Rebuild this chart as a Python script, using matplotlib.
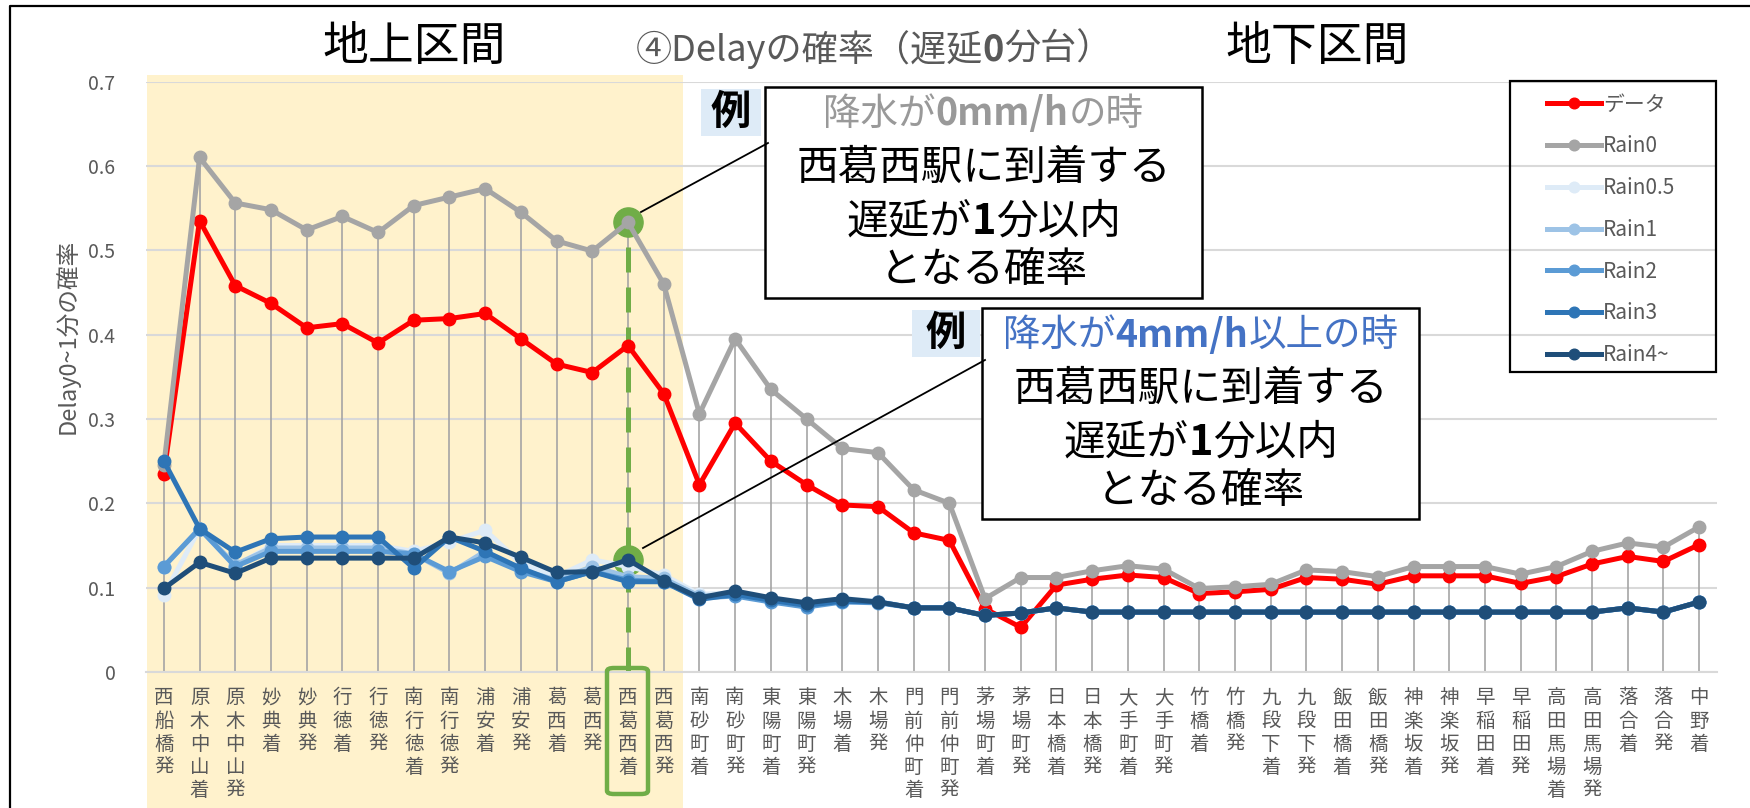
import matplotlib
matplotlib.use("Agg")
import matplotlib.pyplot as plt
from matplotlib.patches import Rectangle, FancyBboxPatch
from matplotlib.lines import Line2D

plt.rcParams["font.family"] = ["Noto Sans CJK JP", "DejaVu Sans"]

W, H = 1750, 808

stations = ["西船橋発", "原木中山着", "原木中山発", "妙典着", "妙典発", "行徳着", "行徳発",
            "南行徳着", "南行徳発", "浦安着", "浦安発", "葛西着", "葛西発", "西葛西着", "西葛西発",
            "南砂町着", "南砂町発", "東陽町着", "東陽町発", "木場着", "木場発", "門前仲町着",
            "門前仲町発", "茅場町着", "茅場町発", "日本橋着", "日本橋発", "大手町着", "大手町発",
            "竹橋着", "竹橋発", "九段下着", "九段下発", "飯田橋着", "飯田橋発", "神楽坂着",
            "神楽坂発", "早稲田着", "早稲田発", "高田馬場着", "高田馬場発", "落合着", "落合発", "中野着"]

data_obs = [0.235, 0.535, 0.458, 0.437, 0.408, 0.413, 0.390, 0.417, 0.419, 0.425, 0.395,
            0.365, 0.355, 0.387, 0.330, 0.222, 0.295, 0.250, 0.222, 0.198, 0.196, 0.165,
            0.156, 0.075, 0.053, 0.103, 0.110, 0.115, 0.112, 0.093, 0.095, 0.098, 0.112,
            0.110, 0.104, 0.114, 0.114, 0.114, 0.105, 0.113, 0.128, 0.137, 0.131, 0.151]
rain0 = [0.245, 0.610, 0.556, 0.548, 0.524, 0.540, 0.521, 0.553, 0.563, 0.573, 0.545,
         0.511, 0.499, 0.533, 0.460, 0.306, 0.395, 0.335, 0.300, 0.265, 0.260, 0.216,
         0.200, 0.087, 0.112, 0.112, 0.120, 0.126, 0.122, 0.099, 0.101, 0.104, 0.121,
         0.119, 0.113, 0.125, 0.125, 0.125, 0.116, 0.125, 0.143, 0.153, 0.148, 0.172]
rain05 = [0.091, 0.170, 0.125, 0.150, 0.150, 0.150, 0.150, 0.143, 0.154, 0.168, 0.129,
          0.113, 0.133, 0.125, 0.115, 0.092, 0.094, 0.087, 0.080, 0.087, 0.084, 0.076,
          0.076, 0.067, 0.070, 0.076, 0.071, 0.071, 0.071, 0.071, 0.071, 0.071, 0.071,
          0.071, 0.071, 0.071, 0.071, 0.071, 0.071, 0.071, 0.071, 0.076, 0.071, 0.083]
rain1 = [0.125, 0.170, 0.127, 0.147, 0.147, 0.147, 0.147, 0.140, 0.117, 0.143, 0.121,
         0.109, 0.125, 0.113, 0.111, 0.090, 0.091, 0.085, 0.077, 0.085, 0.083, 0.076,
         0.076, 0.067, 0.070, 0.076, 0.071, 0.071, 0.071, 0.071, 0.071, 0.071, 0.071,
         0.071, 0.071, 0.071, 0.071, 0.071, 0.071, 0.071, 0.071, 0.076, 0.071, 0.083]
rain2 = [0.125, 0.170, 0.125, 0.143, 0.143, 0.143, 0.143, 0.140, 0.119, 0.137, 0.119,
         0.107, 0.119, 0.109, 0.107, 0.088, 0.090, 0.083, 0.077, 0.083, 0.082, 0.076,
         0.076, 0.067, 0.070, 0.076, 0.071, 0.071, 0.071, 0.071, 0.071, 0.071, 0.071,
         0.071, 0.071, 0.071, 0.071, 0.071, 0.071, 0.071, 0.071, 0.076, 0.071, 0.083]
rain3 = [0.250, 0.170, 0.142, 0.158, 0.160, 0.160, 0.160, 0.123, 0.160, 0.143, 0.123,
         0.107, 0.119, 0.107, 0.107, 0.086, 0.092, 0.085, 0.079, 0.084, 0.083, 0.076,
         0.076, 0.067, 0.070, 0.076, 0.071, 0.071, 0.071, 0.071, 0.071, 0.071, 0.071,
         0.071, 0.071, 0.071, 0.071, 0.071, 0.071, 0.071, 0.071, 0.076, 0.071, 0.083]
rain4 = [0.099, 0.130, 0.117, 0.135, 0.135, 0.135, 0.135, 0.135, 0.160, 0.153, 0.136,
         0.118, 0.119, 0.133, 0.108, 0.088, 0.096, 0.088, 0.082, 0.087, 0.083, 0.076,
         0.076, 0.067, 0.070, 0.076, 0.071, 0.071, 0.071, 0.071, 0.071, 0.071, 0.071,
         0.071, 0.071, 0.071, 0.071, 0.071, 0.071, 0.071, 0.071, 0.076, 0.071, 0.083]

series_names = ["データ", "Rain0", "Rain0.5", "Rain1", "Rain2", "Rain3", "Rain4~"]
series_vals = [data_obs, rain0, rain05, rain1, rain2, rain3, rain4]
series_colors = ["#FF0000", "#A5A5A5", "#DEEBF7", "#9DC3E6", "#5B9BD5", "#2E75B6", "#1F4E79"]

highlight = 13  # 西葛西着

TXT = "#595959"
GREEN = "#70AD47"


def fx(px):
    return px / W


def fy(py):
    return 1 - py / H


fig = plt.figure(figsize=(W / 100, H / 100), dpi=100)
fig.patch.set_facecolor("white")

# ground section shading (drawn as a shape behind the chart)
fig.patches.append(Rectangle((fx(147), 0), fx(683) - fx(147), fy(75), transform=fig.transFigure,
                             facecolor="#FFF2CC", edgecolor="none", zorder=-5))
# outer frame
fig.lines.append(Line2D([fx(10), fx(10), 1], [0, fy(6), fy(6)], transform=fig.transFigure,
                        color="black", lw=1.6))

ax = fig.add_axes([fx(146), fy(672), fx(1717) - fx(146), fy(81.5) - fy(672)])
ax.set_facecolor("none")
x = list(range(len(stations)))

# drop lines from highest series
tops = [max(v[i] for v in series_vals) for i in x]
ax.vlines(x, 0, tops, color="#A5A5A5", lw=1.2, zorder=1)

# green highlight
ax.plot([highlight, highlight], [0, rain0[highlight]], color=GREEN, lw=3.6,
        linestyle=(0, (5, 3)), zorder=2, clip_on=False)
ax.plot([highlight, highlight], [rain0[highlight], rain4[highlight]], "o", color=GREEN,
        markersize=21, zorder=2)

handles = []
for k, (name, vals, col) in enumerate(zip(series_names, series_vals, series_colors)):
    h, = ax.plot(x, vals, "-o", color=col, lw=3.6, markersize=9, label=name, zorder=3 + k)
    handles.append(h)

ax.set_xlim(-0.5, len(stations) - 0.5)
ax.set_ylim(0, 0.7)
ax.set_yticks([0, 0.1, 0.2, 0.3, 0.4, 0.5, 0.6, 0.7])
ax.set_yticklabels(["0", "0.1", "0.2", "0.3", "0.4", "0.5", "0.6", "0.7"])
ax.grid(axis="y", color="#D9D9D9", lw=1.5, zorder=0)
ax.set_axisbelow(True)
for s in ["top", "right", "left"]:
    ax.spines[s].set_visible(False)
ax.spines["bottom"].set_color("#D9D9D9")
ax.spines["bottom"].set_linewidth(1.5)
ax.tick_params(axis="y", length=0, pad=22, labelsize=14, labelcolor=TXT)
ax.tick_params(axis="x", length=0, pad=11, labelsize=14, labelcolor=TXT)
ax.set_xticks(x)
ax.set_xticklabels(["\n".join(s) for s in stations], linespacing=1.14)

fig.text(fx(67), fy(336), "Delay0~1分の確率", rotation=90, ha="center", va="center",
         fontsize=17, color=TXT)

# label box around 西葛西着
fig.patches.append(FancyBboxPatch((fx(607), fy(794)), fx(648) - fx(607), fy(668) - fy(794),
                                  boxstyle="round,pad=0,rounding_size=0.004",
                                  transform=fig.transFigure, facecolor="none",
                                  edgecolor=GREEN, lw=3.2, zorder=10))

# legend: frame drawn separately so the inner padding can match
fig.patches.append(Rectangle((fx(1510), fy(372)), fx(1716) - fx(1510), fy(81) - fy(372),
                             transform=fig.transFigure, facecolor="none",
                             edgecolor="black", lw=1.6, zorder=12))
leg = ax.legend(handles=handles, loc="upper left", bbox_to_anchor=(fx(1547), fy(93.5)),
                bbox_transform=fig.transFigure, fontsize=15, frameon=False,
                handlelength=2.6, handletextpad=0.1, labelspacing=0.95, borderpad=0,
                borderaxespad=0, markerscale=0.85)
for t in leg.get_texts():
    t.set_color(TXT)

renderer = fig.canvas.get_renderer()


def rich_line(cx, cy, parts, size):
    """Draw one centred line made of (text, colour, weight) pieces."""
    texts, widths = [], []
    for s, col, wt in parts:
        t = fig.text(0, fy(cy), s, color=col, fontweight=wt, fontsize=size,
                     ha="left", va="center", zorder=20)
        texts.append(t)
        widths.append(t.get_window_extent(renderer).width)
    left = cx - sum(widths) / 2
    for t, w in zip(texts, widths):
        t.set_x(fx(left))
        left += w


# titles
rich_line(414, 48, [("地上区間", "black", "normal")], 33)
rich_line(1317, 48, [("地下区間", "black", "normal")], 33)
rich_line(874, 50, [("④Delayの確率（遅延", TXT, "normal"), ("0", TXT, "bold"),
                    ("分台）", TXT, "normal")], 26)

# example boxes
GRAYT = "#999999"
BLUET = "#4472C4"
boxes = [
    (765, 87, 1202, 298, 701, 89, 761, 136,
     [("降水が", GRAYT, "normal"), ("0mm/h", GRAYT, "bold"), ("の時", GRAYT, "normal")]),
    (982, 308, 1419, 519, 912, 310, 980, 357,
     [("降水が", BLUET, "normal"), ("4mm/h", BLUET, "bold"), ("以上の時", BLUET, "normal")]),
]
for x0, y0, x1, y1, ex0, ey0, ex1, ey1, first in boxes:
    fig.patches.append(Rectangle((fx(x0), fy(y1)), fx(x1) - fx(x0), fy(y0) - fy(y1),
                                 transform=fig.transFigure, facecolor="white",
                                 edgecolor="black", lw=1.8, zorder=15))
    fig.patches.append(Rectangle((fx(ex0), fy(ey1)), fx(ex1) - fx(ex0), fy(ey0) - fy(ey1),
                                 transform=fig.transFigure, facecolor="#DEEBF7",
                                 edgecolor="none", zorder=15))
    fig.text(fx((ex0 + ex1) / 2), fy((ey0 + ey1) / 2), "例", ha="center", va="center",
             fontsize=29, fontweight="bold", color="black", zorder=20)
    cx = (x0 + x1) / 2
    rich_line(cx, y0 + 27, first, 27)
    rich_line(cx, y0 + 81, [("西葛西駅に到着する", "black", "normal")], 30)
    rich_line(cx, y0 + 135, [("遅延が", "black", "normal"), ("1", "black", "bold"),
                             ("分以内", "black", "normal")], 30)
    rich_line(cx, y0 + 183, [("となる確率", "black", "normal")], 30)

# connector lines
fig.lines.append(Line2D([fx(768), fx(641)], [fy(143), fy(212)], transform=fig.transFigure,
                        color="black", lw=1.3, zorder=16))
fig.lines.append(Line2D([fx(985), fx(643)], [fy(360), fy(548)], transform=fig.transFigure,
                        color="black", lw=1.3, zorder=16))

fig.savefig("out.png", dpi=100)
